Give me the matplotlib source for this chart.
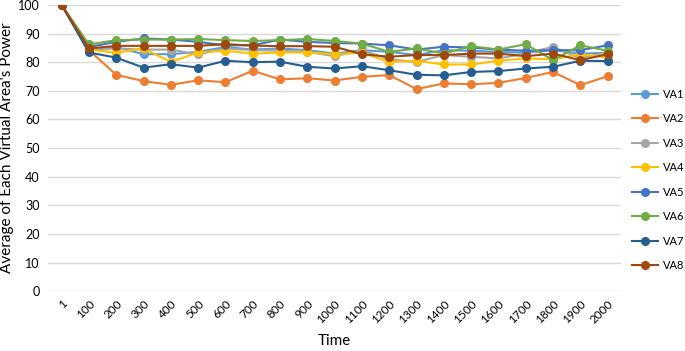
import numpy as np
import matplotlib.pyplot as plt

plt.rcParams['font.family'] = ['Lato', 'DejaVu Sans']

times = ["1", "100", "200", "300", "400", "500", "600", "700", "800", "900", "1000",
         "1100", "1200", "1300", "1400", "1500", "1600", "1700", "1800", "1900", "2000"]

va1 = [100, 84.2, 85.3, 82.8, 82.8, 83.6, 85.3, 84.4, 84.8, 84.2, 83.0,
       84.2, 83.6, 82.5, 84.2, 84.0, 83.6, 83.3, 84.2, 83.0, 83.3]
va2 = [100, 84.2, 75.6, 73.4, 72.1, 73.7, 73.0, 77.0, 74.0, 74.4, 73.6,
       74.9, 75.5, 70.6, 72.6, 72.3, 72.8, 74.5, 76.6, 72.0, 75.1]
va3 = [100, 84.2, 84.8, 84.4, 84.4, 82.7, 84.8, 84.2, 84.0, 83.6, 82.1,
       84.2, 81.0, 80.1, 82.5, 81.9, 81.3, 83.0, 85.4, 81.3, 83.6]
va4 = [100, 84.4, 83.3, 84.8, 80.1, 83.4, 84.0, 83.0, 83.4, 83.4, 82.8,
       83.3, 80.1, 80.5, 79.2, 79.2, 80.5, 81.3, 81.0, 82.8, 81.6]
va5 = [100, 85.3, 87.1, 88.3, 87.9, 87.1, 85.9, 85.9, 87.9, 87.1, 86.7,
       86.5, 85.9, 84.4, 85.4, 85.1, 84.4, 84.0, 84.2, 84.2, 85.9]
va6 = [100, 86.2, 87.7, 87.9, 87.9, 88.1, 87.7, 87.4, 87.7, 88.1, 87.4,
       86.5, 83.6, 84.8, 83.0, 85.6, 84.4, 86.3, 80.7, 85.9, 84.0]
va7 = [100, 83.4, 81.6, 78.1, 79.3, 78.1, 80.5, 80.0, 80.2, 78.4, 77.8,
       78.6, 77.2, 75.6, 75.4, 76.6, 76.9, 77.8, 78.4, 80.5, 80.4]
va8 = [100, 84.8, 85.7, 85.7, 85.7, 85.7, 86.3, 85.8, 85.6, 85.6, 85.4,
       82.8, 81.9, 82.5, 82.5, 83.0, 83.0, 82.1, 83.0, 80.7, 82.8]

series = [("VA1", va1, "#5B9BD5"), ("VA2", va2, "#ED7D31"), ("VA3", va3, "#A5A5A5"),
          ("VA4", va4, "#FFC000"), ("VA5", va5, "#4472C4"), ("VA6", va6, "#70AD47"),
          ("VA7", va7, "#255E91"), ("VA8", va8, "#9E480E")]

fig = plt.figure(figsize=(6.85, 3.51), dpi=100)
ax = fig.add_axes([0.070, 0.170, 0.837, 0.816])

x = np.arange(len(times))
for name, vals, col in series:
    ax.plot(x, vals, "-o", color=col, lw=1.5, ms=5.5, label=name)

ax.set_xlim(-0.5, len(times) - 0.5)
ax.set_ylim(0, 100)
ax.set_yticks(np.arange(0, 101, 10))
ax.set_xticks(x)
ax.set_xticklabels(times, rotation=45, ha="right", rotation_mode="anchor", fontsize=8.5)
ax.tick_params(axis="y", labelsize=9, length=0, pad=6)
ax.tick_params(axis="x", length=0, pad=5)
ax.grid(axis="y", color="#d9d9d9", lw=1)
ax.set_axisbelow(True)
for s in ax.spines.values():
    s.set_visible(False)

ax.set_xlabel("Time", fontsize=11, labelpad=6)
ax.set_ylabel("Average of Each Virtual Area's Power", fontsize=11, labelpad=3)


def add_legend(spacing):
    return ax.legend(loc="center left", bbox_to_anchor=(1.0, 0.389), frameon=False,
                     fontsize=8, handlelength=2.35, handletextpad=0.45,
                     labelspacing=spacing, borderaxespad=0.55)


# legend rows should sit about 24.5 px apart, as in the reference
ls = 1.0
leg = add_legend(ls)
fig.canvas.draw()
r = fig.canvas.get_renderer()
ys = [t.get_window_extent(r).y0 for t in leg.get_texts()]
gap = (ys[0] - ys[-1]) / (len(ys) - 1)
ls += (24.5 - gap) / (8 * 100 / 72)
leg.remove()
leg = add_legend(ls)

plt.savefig("out.png", dpi=100)
